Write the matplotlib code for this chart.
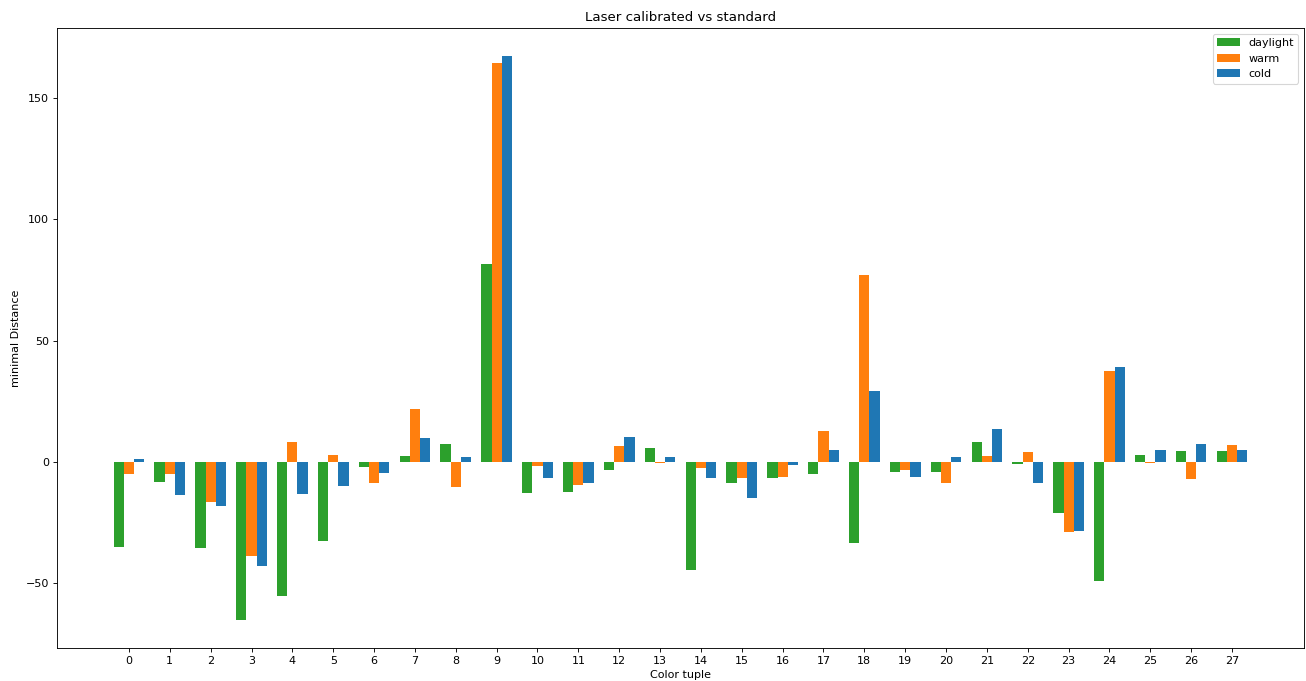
import numpy as np
import matplotlib
matplotlib.use("Agg")
import matplotlib.pyplot as plt

tuples = list(range(28))

daylight = [-34.9, -8.1, -35.3, -65.0, -55.1, -32.4, -1.9, 2.5, 7.4, 81.6,
            -12.6, -12.2, -3.2, 5.8, -44.5, -8.5, -6.5, -4.8, -33.2, -4.0,
            -4.0, 8.2, -0.7, -20.9, -48.9, 2.9, 4.5, 4.5]
warm = [-4.8, -4.8, -16.3, -38.6, 8.2, 2.9, -8.5, 21.8, -10.2, 164.4,
        -1.5, -9.3, 6.6, -0.3, -2.3, -6.5, -6.0, 12.8, 77.0, -3.2,
        -8.5, 2.5, 4.1, -28.7, 37.5, -0.5, -6.9, 7.0]
cold = [1.2, -13.5, -18.0, -42.7, -13.0, -9.8, -4.4, 9.9, 2.1, 167.3,
        -6.5, -8.5, 10.3, 2.1, -6.5, -14.7, -1.1, 4.9, 29.3, -6.0,
        2.1, 13.6, -8.5, -28.3, 39.1, 4.9, 7.4, 4.9]

x = np.arange(len(tuples))
w = 0.25

fig, ax = plt.subplots(figsize=(16.325, 8.5125), dpi=80)
ax.bar(x - w, daylight, w, color="#2ca02c", label="daylight")
ax.bar(x, warm, w, color="#ff7f0e", label="warm")
ax.bar(x + w, cold, w, color="#1f77b4", label="cold")

ax.set_xticks(x)
ax.set_xticklabels(tuples)
ax.set_xlabel("Color tuple")
ax.set_ylabel("minimal Distance")
ax.set_title("Laser calibrated vs standard")
ax.legend(loc="upper right")

fig.subplots_adjust(left=0.0436, right=0.9985, top=0.9589, bottom=0.0485)
fig.savefig("out.png")
